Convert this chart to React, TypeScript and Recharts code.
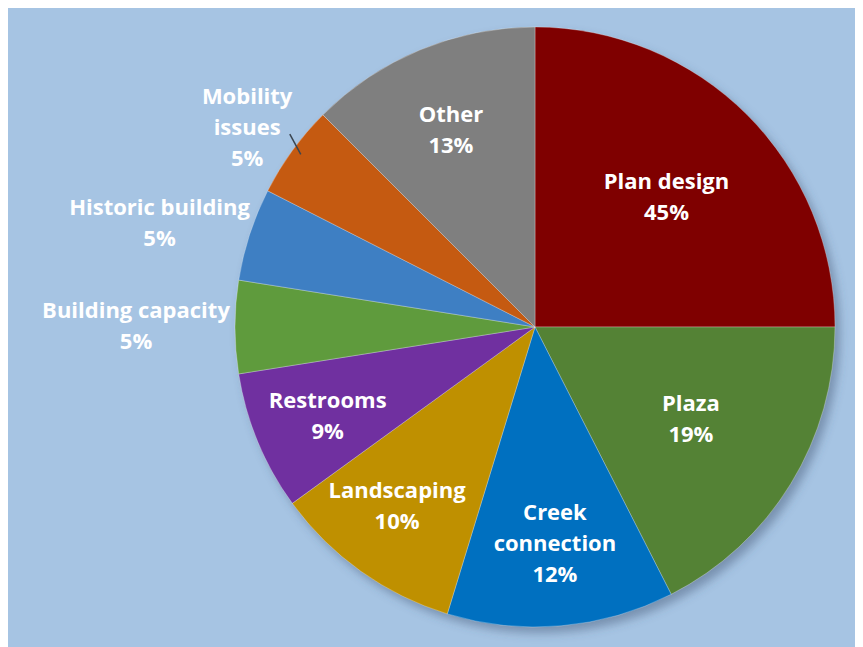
import React from "react";
import { PieChart, Pie, Cell } from "recharts";

const categories = [
  "Plan design",
  "Plaza",
  "Creek connection",
  "Landscaping",
  "Restrooms",
  "Building capacity",
  "Historic building",
  "Mobility issues",
  "Other",
];
// slice sizes as drawn (degrees of the circle)
const sliceValues = [90, 63, 44, 37, 27, 18, 18, 18, 45];
// percentages printed on the labels
const percentLabels = [45, 19, 12, 10, 9, 5, 5, 5, 13];
const colors = [
  "#7f0000",
  "#548235",
  "#0070c0",
  "#bf9000",
  "#7030a0",
  "#5f9b3d",
  "#3e7fc3",
  "#c55a11",
  "#7f7f7f",
];
const wrapped = ["Creek connection", "Mobility issues"];
// label radius as a fraction of the outer radius, and angle nudge (deg)
const labelRadius = [0.62, 0.6, 0.72, 0.75, 0.75, 1.33, 1.3, 1.17, 0.72];
const labelNudge = [0, 1.5, 0.3, -2.3, 0.4, -0.3, 2.3, 1.1, 0.4];

const data = categories.map((name, i) => ({
  name,
  value: sliceValues[i],
  pct: percentLabels[i],
}));
const shadowData = [{ name: "shadow", value: 1 }];

const RAD = Math.PI / 180;
const LINE = 31;

const renderLabel = (props: any) => {
  const { cx, cy, midAngle, outerRadius, index } = props;
  const ang = midAngle + labelNudge[index];
  const r = outerRadius * labelRadius[index];
  const x = cx + r * Math.cos(-ang * RAD);
  const y = cy + r * Math.sin(-ang * RAD);
  const name = categories[index];
  const lines = wrapped.includes(name) ? name.split(" ") : [name];
  lines.push(`${percentLabels[index]}%`);
  const n = lines.length;
  let leader = null;
  if (index === 7) {
    const a1 = midAngle - 2.2;
    const a2 = midAngle - 0.4;
    const r1 = outerRadius * 1.04;
    const r2 = outerRadius * 0.97;
    leader = (
      <line
        x1={cx + r1 * Math.cos(-a1 * RAD)}
        y1={cy + r1 * Math.sin(-a1 * RAD)}
        x2={cx + r2 * Math.cos(-a2 * RAD)}
        y2={cy + r2 * Math.sin(-a2 * RAD)}
        stroke="#3a4550"
        strokeWidth={1.5}
      />
    );
  }
  return (
    <g key={`lbl-${index}`}>
      {leader}
      {lines.map((t, i) => (
        <text
          key={i}
          x={x}
          y={y + (i - (n - 1) / 2) * LINE}
          fill="#ffffff"
          textAnchor="middle"
          dominantBaseline="central"
          fontFamily="'Open Sans', sans-serif"
          fontWeight={700}
          fontSize={22}
        >
          {t}
        </text>
      ))}
    </g>
  );
};

export default function App() {
  return (
    <div style={{ width: 855, height: 639, background: "#a6c4e3" }}>
      <PieChart width={855} height={639}>
        <defs>
          <filter id="pieShadow" x="-20%" y="-20%" width="140%" height="140%">
            <feGaussianBlur stdDeviation="5" />
          </filter>
        </defs>
        <Pie
          data={shadowData}
          dataKey="value"
          cx={527}
          cy={320}
          outerRadius={300}
          startAngle={90}
          endAngle={-270}
          stroke="none"
          isAnimationActive={false}
          label={false}
          labelLine={false}
        >
          <Cell fill="#3d5470" fillOpacity={0.45} filter="url(#pieShadow)" />
        </Pie>
        <Pie
          data={data}
          dataKey="value"
          nameKey="name"
          cx={522}
          cy={314}
          outerRadius={300}
          startAngle={90}
          endAngle={-270}
          stroke="rgba(255,255,255,0.35)"
          strokeWidth={0.8}
          isAnimationActive={false}
          labelLine={false}
          label={renderLabel}
        >
          {data.map((d, i) => (
            <Cell key={d.name} fill={colors[i]} />
          ))}
        </Pie>
      </PieChart>
    </div>
  );
}
